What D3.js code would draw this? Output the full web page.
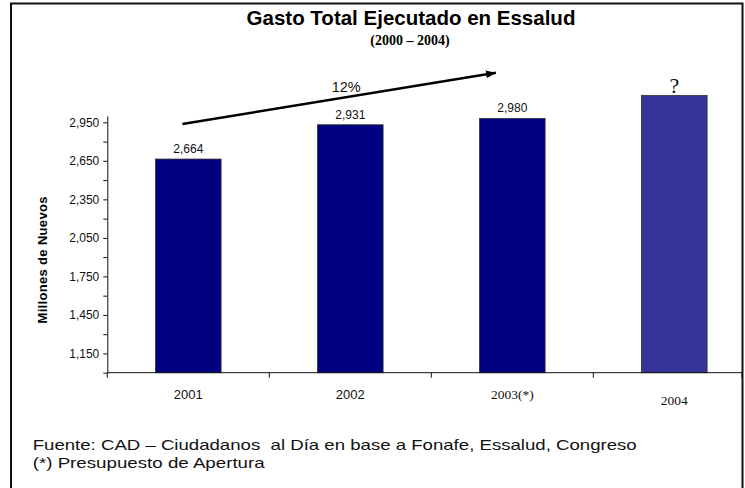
<!DOCTYPE html>
<html>

<head>
  <title>Gasto Total Ejecutado en Essalud</title>
  <script src="https://cdn.jsdelivr.net/npm/d3@7"></script>
  <style>
    body { margin: 0; background: #fff; }
  </style>
</head>

<body>
  <svg width="745" height="488" id="mainsvg"></svg>
  <script>
    // data
    const years = ['2001', '2002', '2003(*)', '2004'];
    const gasto = [2664, 2931, 2980, 3160];          // 2004 is the "?" bar
    const valueLabels = ['2,664', '2,931', '2,980', '?'];
    const yTicks = d3.range(1000, 3000, 150);        // minor + major ticks
    const yTickLabels = [1150, 1450, 1750, 2050, 2350, 2650, 2950];
    const serifYears = ['2003(*)', '2004'];
    const growthLabel = '12%';
    const growthFrom = { year: '2001', value: 2937 };
    const growthTo = { year: '2003(*)', value: 3336 };

    const svg = d3.select('#mainsvg');
    const sans = "Arial, 'Liberation Sans', sans-serif";
    const serif = "'Times New Roman', 'Liberation Serif', serif";

    // frame
    svg.append('rect')
      .attr('x', 11).attr('y', 3.5)
      .attr('width', 731.5).attr('height', 500)
      .attr('fill', 'none').attr('stroke', '#111').attr('stroke-width', 2);

    const data = years.map((d, i) => ({ year: d, value: gasto[i], label: valueLabels[i] }));

    const x = d3.scaleBand()
      .domain(years)
      .range([107.3, 755.3])
      .paddingInner(0.595)
      .paddingOuter(0.2975);

    const y = d3.scaleLinear()
      .domain([1000, 3000])
      .range([372.7, 115.9]);

    const g = svg.append('g');

    // bars
    g.selectAll('.bar').data(data).enter().append('rect')
      .attr('class', 'bar')
      .attr('x', d => x(d.year))
      .attr('y', d => y(d.value))
      .attr('width', x.bandwidth())
      .attr('height', d => y(1000) - y(d.value))
      .attr('fill', d => d.year === '2004' ? '#333399' : '#000080')
      .attr('stroke', '#333')
      .attr('stroke-width', 0.8);

    // value labels
    g.selectAll('.vlabel').data(data).enter().append('text')
      .attr('class', 'vlabel')
      .attr('x', d => x(d.year) + x.bandwidth() / 2)
      .attr('y', d => y(d.value) - (d.label === '?' ? 2 : 6))
      .attr('text-anchor', 'middle')
      .attr('font-family', d => d.label === '?' ? serif : sans)
      .attr('font-size', d => d.label === '?' ? 22 : 12)
      .attr('fill', '#111')
      .text(d => d.label);

    // y axis
    const yAxis = d3.axisLeft(y)
      .tickValues(yTicks)
      .tickSize(4)
      .tickSizeOuter(0)
      .tickPadding(4)
      .tickFormat(d => yTickLabels.includes(d) ? d3.format(',')(d) : '');
    const yAxisGroup = g.append('g')
      .attr('transform', 'translate(107.3,0)')
      .call(yAxis);
    yAxisGroup.selectAll('text')
      .attr('font-family', sans).attr('font-size', 12).attr('fill', '#111');
    yAxisGroup.selectAll('line, path').attr('stroke', '#111');

    // x axis: line and ticks at the band boundaries
    const half = (x.step() - x.bandwidth()) / 2;
    const bounds = years.map(d => x(d) - half);
    g.append('line')
      .attr('x1', bounds[0]).attr('x2', 742)
      .attr('y1', y(1000)).attr('y2', y(1000))
      .attr('stroke', '#111');
    g.selectAll('.xtick').data(bounds.concat([742])).enter().append('line')
      .attr('class', 'xtick')
      .attr('x1', d => d).attr('x2', d => d)
      .attr('y1', y(1000)).attr('y2', y(1000) + 5)
      .attr('stroke', '#111');

    const xAxis = d3.axisBottom(x).tickSize(0).tickPadding(17);
    const xAxisGroup = g.append('g')
      .attr('transform', `translate(0,${y(1000)})`)
      .call(xAxis);
    xAxisGroup.select('.domain').remove();
    xAxisGroup.attr('font-family', null).attr('font-size', null);
    xAxisGroup.selectAll('text')
      .attr('fill', '#111')
      .style('font-family', d => serifYears.includes(d) ? serif : sans)
      .style('font-size', d => serifYears.includes(d) ? '13.5px' : '13px')
      .attr('dy', d => d === '2004' ? '1.1em' : '0.71em');

    // y axis title
    svg.append('text')
      .attr('transform', 'translate(46.5,260) rotate(-90)')
      .attr('text-anchor', 'middle')
      .attr('font-family', sans)
      .attr('font-weight', 'bold')
      .attr('font-size', 13)
      .attr('textLength', 127)
      .attr('lengthAdjust', 'spacing')
      .text('Millones de Nuevos');

    // growth arrow
    svg.append('defs').append('marker')
      .attr('id', 'arrowhead')
      .attr('viewBox', '0 0 10 8')
      .attr('refX', 10).attr('refY', 4)
      .attr('markerWidth', 10).attr('markerHeight', 8)
      .attr('markerUnits', 'userSpaceOnUse')
      .attr('orient', 'auto')
      .append('path').attr('d', 'M0,0 L10,4 L0,8 Z').attr('fill', '#000');

    const ax1 = x(growthFrom.year) + x.bandwidth() * 0.41;
    const ay1 = y(growthFrom.value);
    const ax2 = x(growthTo.year) + x.bandwidth() * 0.25;
    const ay2 = y(growthTo.value);
    svg.append('line')
      .attr('x1', ax1).attr('y1', ay1)
      .attr('x2', ax2).attr('y2', ay2)
      .attr('stroke', '#000').attr('stroke-width', 2.6)
      .attr('marker-end', 'url(#arrowhead)');
    svg.append('text')
      .attr('x', (ax1 + ax2) / 2 + 7)
      .attr('y', (ay1 + ay2) / 2 - 6)
      .attr('text-anchor', 'middle')
      .attr('font-family', sans)
      .attr('font-size', 14.5)
      .attr('fill', '#111')
      .text(growthLabel);

    // titles
    svg.append('text')
      .attr('x', 411).attr('y', 25)
      .attr('text-anchor', 'middle')
      .attr('font-family', sans).attr('font-weight', 'bold')
      .attr('font-size', 20.5)
      .text('Gasto Total Ejecutado en Essalud');
    svg.append('text')
      .attr('x', 410).attr('y', 45)
      .attr('text-anchor', 'middle')
      .attr('font-family', serif).attr('font-weight', 'bold')
      .attr('font-size', 14)
      .text('(2000 – 2004)');

    // footer
    svg.append('text')
      .attr('x', 32.7).attr('y', 450)
      .attr('font-family', sans).attr('font-size', 15)
      .attr('textLength', 604).attr('lengthAdjust', 'spacingAndGlyphs')
      .attr('fill', '#111')
      .style('white-space', 'pre')
      .text('Fuente: CAD – Ciudadanos  al Día en base a Fonafe, Essalud, Congreso');
    svg.append('text')
      .attr('x', 32.7).attr('y', 468)
      .attr('font-family', sans).attr('font-size', 15)
      .attr('textLength', 232).attr('lengthAdjust', 'spacingAndGlyphs')
      .attr('fill', '#111')
      .text('(*) Presupuesto de Apertura');
  </script>
</body>

</html>
